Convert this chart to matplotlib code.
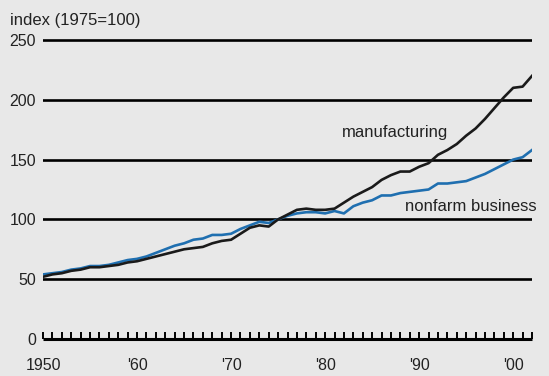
import matplotlib
matplotlib.use("Agg")
import matplotlib.pyplot as plt
from matplotlib.ticker import MultipleLocator

plt.rcParams['font.family'] = ['Liberation Sans', 'DejaVu Sans']

# Data (index, 1975=100)
years = list(range(1950, 2003))
manufacturing = [52, 54, 55, 57, 58, 60, 60, 61, 62, 64,
                 65, 67, 69, 71, 73, 75, 76, 77, 80, 82,
                 83, 88, 93, 95, 94, 100, 104, 108, 109, 108,
                 108, 109, 114, 119, 123, 127, 133, 137, 140, 140,
                 144, 147, 154, 158, 163, 170, 176, 184, 193, 202,
                 210, 211, 220]
nonfarm = [54, 55, 56, 58, 59, 61, 61, 62, 64, 66,
           67, 69, 72, 75, 78, 80, 83, 84, 87, 87,
           88, 92, 95, 98, 97, 100, 103, 105, 106, 106,
           105, 107, 105, 111, 114, 116, 120, 120, 122, 123,
           124, 125, 130, 130, 131, 132, 135, 138, 142, 146,
           150, 152, 158]

decade_ticks = [1950, 1960, 1970, 1980, 1990, 2000]
decade_labels = ["1950", "'60", "'70", "'80", "'90", "'00"]
y_ticks = [0, 50, 100, 150, 200, 250]

bg = "#e8e8e8"
blue = "#1f6fb0"
txt = "#222222"

W, H = 549, 376
fig = plt.figure(figsize=(W / 100, H / 100), dpi=100, facecolor=bg)
# axes box in pixels: x 43..532, y(0)=339, y(255)=34
ax = fig.add_axes([43 / W, 1 - 339 / H, (532 - 43) / W, (339 - 34) / H])
ax.set_facecolor(bg)

ax.set_xlim(1950, 2002)
ax.set_ylim(0, 255)

for yv in y_ticks[1:]:
    ax.axhline(yv, color="black", lw=1.9, zorder=1)

ax.plot(years, manufacturing, color="#1a1a1a", lw=1.9, zorder=3)
ax.plot(years, nonfarm, color=blue, lw=1.9, zorder=2)

ax.text(1981.8, 173, "manufacturing", fontsize=12, color=txt,
        va="center", ha="left")
ax.text(1988.5, 111, "nonfarm business", fontsize=12, color=txt,
        va="center", ha="left")

for s in ["top", "right", "left"]:
    ax.spines[s].set_visible(False)
ax.spines["bottom"].set_linewidth(2.2)
ax.spines["bottom"].set_capstyle("butt")

ax.set_xticks(decade_ticks)
ax.set_xticklabels(decade_labels)
ax.xaxis.set_minor_locator(MultipleLocator(1))
ax.tick_params(axis="x", which="both", direction="in", length=5, width=1.4,
               color="black", pad=14, labelsize=11.5, labelcolor=txt)
ax.set_yticks(y_ticks)
ax.tick_params(axis="y", length=0, pad=5, labelsize=11.5, labelcolor=txt)

fig.text(10 / W, 1 - 20 / H, "index (1975=100)", fontsize=12, va="center",
         ha="left", color=txt)

fig.savefig("out.png", dpi=100, facecolor=bg)
